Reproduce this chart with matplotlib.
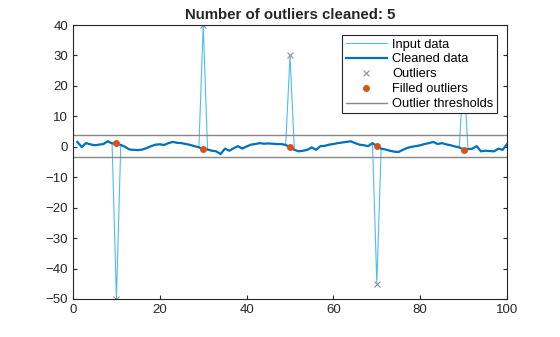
import numpy as np
import matplotlib
matplotlib.use("Agg")
import matplotlib.pyplot as plt

plt.rcParams['font.family'] = ['Liberation Sans', 'DejaVu Sans']

# sample index 1..100
x = np.arange(1, 101)

# cleaned signal (outliers already replaced by filled values)
cleaned = [1.6, -0.1, 1.2, 0.8, 0.5, 0.7, 0.9, 1.8, 1.1, 1.2,
           0.6, 0.0, -0.9, -1.0, -1.1, -0.9, -0.4, 0.2, 0.7, 0.8,
           0.6, 1.2, 1.6, 1.3, 1.2, 0.9, 0.6, 0.2, -0.2, -0.7,
           -0.9, -1.3, -1.5, -2.4, -0.6, -1.3, -0.5, 0.2, -0.6, 0.1,
           0.7, 0.9, 1.2, 1.0, 1.1, 1.0, 0.9, 0.9, 0.6, -0.2,
           -1.0, -1.5, -1.3, -1.0, -0.2, -1.0, 0.2, 0.3, 0.7, 0.9,
           1.2, 1.4, 1.6, 1.8, 1.2, 0.7, 0.5, 0.2, 1.2, 0.2,
           -0.6, -0.9, -1.3, -1.6, -1.7, -1.0, -0.4, 0.0, 0.2, 0.5,
           0.9, 1.2, 1.6, 0.9, 1.2, 0.8, 0.5, 0.1, -0.2, -0.9,
           -0.8, -0.6, 0.2, -1.5, -1.3, -1.4, -1.5, -0.6, -1.0, 0.9]

outlier_x = [10, 30, 50, 70, 90]
outlier_y = [-50, 40, 30, -45, 25]

upper_thresh = 4.0
lower_thresh = -3.4

cleaned = np.array(cleaned)
raw = cleaned.copy()
raw[np.array(outlier_x) - 1] = outlier_y
filled_y = cleaned[np.array(outlier_x) - 1]

fig = plt.figure(figsize=(5.6, 3.37), dpi=100)
ax = fig.add_axes([0.1304, 0.1128, 0.775, 0.8130])

ax.plot(x, raw, color='#4DBEEE', lw=0.8, label='Input data')
ax.plot(x, cleaned, color='#0072BD', lw=1.6, label='Cleaned data')
ax.plot(outlier_x, outlier_y, 'x', color='#909090', ms=5, mew=0.8, label='Outliers')
ax.plot(outlier_x, filled_y, '.', color='#D95319', ms=8, label='Filled outliers')
ax.plot([0, 100], [upper_thresh, upper_thresh], color='#888888', lw=1.0,
        label='Outlier thresholds')
ax.plot([0, 100], [lower_thresh, lower_thresh], color='#888888', lw=1.0)

ax.set_xlim(0, 100)
ax.set_ylim(-50, 40)
ax.set_xticks(range(0, 101, 20))
ax.set_yticks(range(-50, 41, 10))
ax.tick_params(direction='in', length=3, labelsize=9.5, top=False, right=True,
               colors='#262626')
for s in ax.spines.values():
    s.set_color('#262626')
    s.set_linewidth(0.8)

ax.set_title('Number of outliers cleaned: 5', fontsize=10.8, fontweight='bold',
             color='#262626', pad=4)

leg = ax.legend(loc='upper right', fontsize=9.3, frameon=True, fancybox=False,
                edgecolor='#262626', framealpha=1, borderpad=0.25,
                labelspacing=0.22, handlelength=3.2, handletextpad=0.4,
                borderaxespad=0.8)
leg.get_frame().set_linewidth(0.8)

fig.savefig('out.png', dpi=100)
